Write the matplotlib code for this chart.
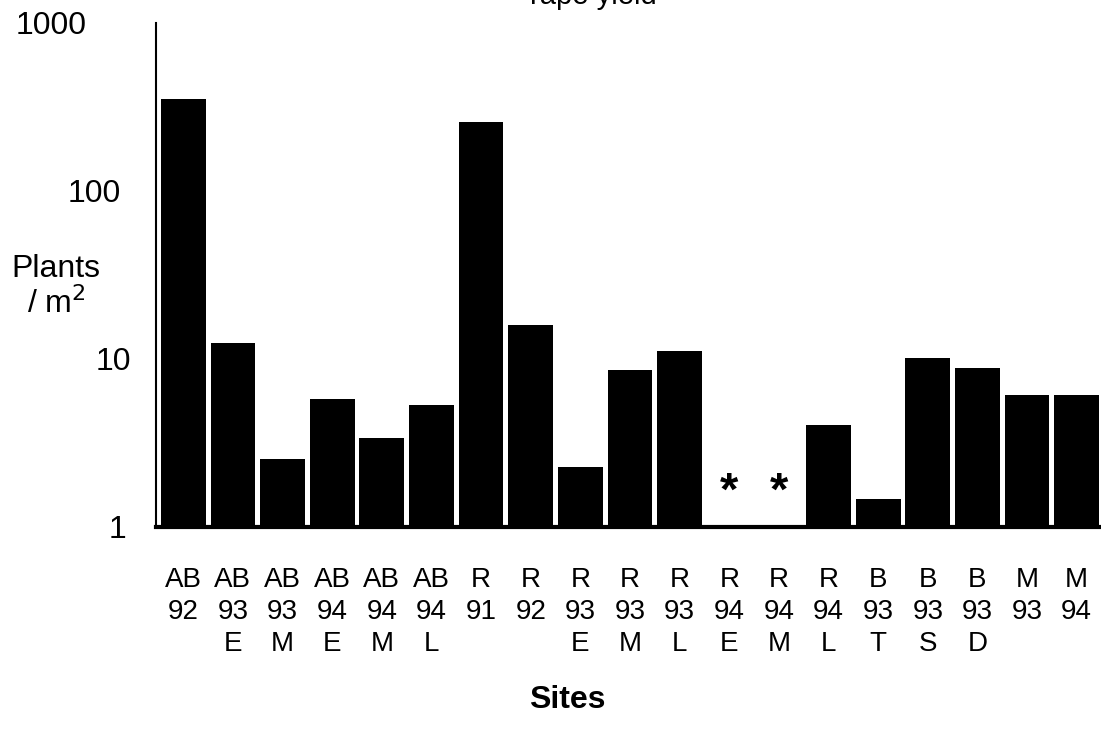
import numpy as np
import matplotlib.pyplot as plt
import matplotlib.transforms as mtransforms

plt.rcParams['font.family'] = ['Liberation Sans', 'DejaVu Sans']

# Datos
sites = ['AB\n92\n', 'AB\n93\nE', 'AB\n93\nM', 'AB\n94\nE', 'AB\n94\nM', 'AB\n94\nL',
         'R\n91\n', 'R\n92\n', 'R\n93\nE', 'R\n93\nM', 'R\n93\nL', 'R\n94\nE',
         'R\n94\nM', 'R\n94\nL', 'B\n93\nT', 'B\n93\nS', 'B\n93\nD', 'M\n93\n', 'M\n94\n']
plants = [353, 12.4, 2.54, 5.8, 3.4, 5.3, 257, 15.9, 2.28, 8.6, 11.2,
          np.nan, np.nan, 4.05, 1.47, 10.1, 8.8, 6.1, 6.1]
yticks = [1, 10, 100, 1000]
ytick_labels = ['1', '10', '100', '1000']

x = np.arange(len(sites))
plants = np.array(plants, dtype=float)

fig = plt.figure(figsize=(11.01, 7.30), dpi=100)
ax = fig.add_axes([156 / 1101, 1 - 527 / 730, 948 / 1101, 504 / 730])

ax.bar(x, np.nan_to_num(plants, nan=1.0) - 1, bottom=1, width=0.9,
       color='black', align='center')

# marcas de sitios sin plantas
for xi, v in zip(x, plants):
    if np.isnan(v):
        ax.text(xi, 1.6, '*', ha='center', va='center', fontsize=34,
                fontweight='bold')

ax.set_yscale('log')
ax.set_ylim(1, 1000)
ax.set_xlim(-0.55, len(sites) - 0.45)
ax.set_yticks(yticks)
ax.set_yticklabels(ytick_labels, fontsize=23)
ax.yaxis.set_minor_locator(plt.NullLocator())
ax.tick_params(axis='y', length=0, pad=30)

# corrimientos individuales de las etiquetas del eje y (en píxeles)
shifts = [12, 17, 7, -28]
for lab, dx in zip(ax.get_yticklabels(), shifts):
    lab.set_transform(lab.get_transform() +
                      mtransforms.ScaledTranslation(dx / 100, 0, fig.dpi_scale_trans))

ax.set_xticks(x)
ax.set_xticklabels(sites, fontsize=20, linespacing=1.3, va='top')
ax.tick_params(axis='x', length=0, pad=29)

ax.spines['top'].set_visible(False)
ax.spines['right'].set_visible(False)
ax.spines['left'].set_linewidth(1.5)
ax.spines['bottom'].set_linewidth(3)

fig.text(56 / 1101, 1 - 287 / 730, 'Plants\n/ m$^2$', ha='center', va='center',
         fontsize=23, linespacing=1.15)
fig.text(567 / 1101, 1 - 700 / 730, 'Sites', ha='center', va='center',
         fontsize=23, fontweight='bold')
fig.text(593 / 1101, 1 - 4 / 730, 'rape yield', ha='center', va='baseline',
         fontsize=21)

fig.savefig('out.png', dpi=100)
